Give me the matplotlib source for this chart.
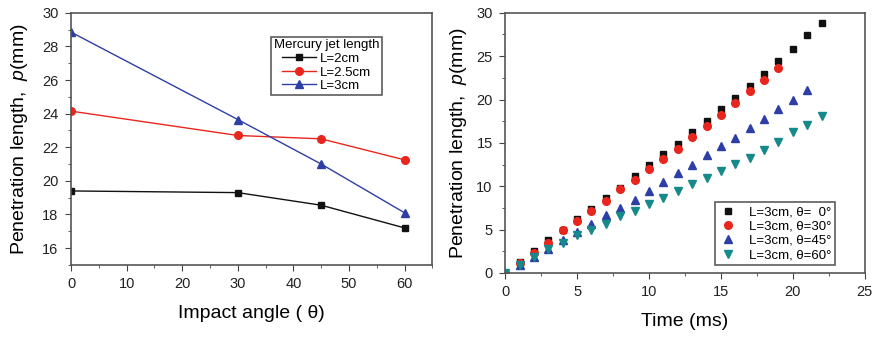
import matplotlib
matplotlib.use("Agg")
import matplotlib.pyplot as plt
from matplotlib.ticker import MultipleLocator

plt.rcParams['font.family'] = ['Liberation Sans', 'DejaVu Sans']
plt.rcParams['mathtext.fontset'] = 'custom'
plt.rcParams['mathtext.it'] = 'Liberation Sans:italic'
plt.rcParams['mathtext.rm'] = 'Liberation Sans'

# left panel: penetration vs impact angle
angles = [0, 30, 45, 60]
p_L2 = [19.4, 19.3, 18.55, 17.2]
p_L25 = [24.15, 22.7, 22.5, 21.25]
p_L3 = [28.85, 23.65, 21.0, 18.1]

# right panel: penetration vs time, L=3cm
t_0 = list(range(0, 23))
p_0 = [0, 1.27, 2.5, 3.77, 4.9, 6.2, 7.4, 8.6, 9.8, 11.15, 12.45, 13.7, 14.9,
       16.2, 17.5, 18.95, 20.2, 21.55, 22.9, 24.5, 25.8, 27.4, 28.85]
t_30 = list(range(0, 20))
p_30 = [0, 1.15, 2.35, 3.5, 4.9, 5.95, 7.15, 8.25, 9.65, 10.75, 11.95, 13.1,
        14.35, 15.65, 16.9, 18.25, 19.6, 20.95, 22.25, 23.6]
t_45 = list(range(0, 22))
p_45 = [0, 0.95, 1.8, 2.8, 3.75, 4.7, 5.7, 6.65, 7.45, 8.4, 9.4, 10.5, 11.5,
        12.45, 13.55, 14.65, 15.6, 16.7, 17.8, 18.9, 20.0, 21.1]
t_60 = list(range(0, 23))
p_60 = [0, 0.9, 1.85, 2.75, 3.5, 4.35, 4.95, 5.7, 6.55, 7.2, 8.0, 8.65, 9.5,
        10.25, 10.95, 11.8, 12.6, 13.3, 14.2, 15.15, 16.2, 17.1, 18.05]

black = '#111111'
red = '#e8261e'
blue = '#2d3fa6'
teal = '#16898a'

fig = plt.figure(figsize=(8.77, 3.37), dpi=100)
ax1 = fig.add_axes([0.081, 0.214, 0.412, 0.748])
ax2 = fig.add_axes([0.576, 0.190, 0.410, 0.772])

ax1.plot(angles, p_L2, color=black, lw=1, marker='s', ms=5, label='L=2cm')
ax1.plot(angles, p_L25, color=red, lw=1, marker='o', ms=5.5, label='L=2.5cm')
ax1.plot(angles, p_L3, color=blue, lw=1, marker='^', ms=6, label='L=3cm')
ax1.set_xlim(0, 65)
ax1.set_ylim(15, 30)
ax1.xaxis.set_major_locator(MultipleLocator(10))
ax1.xaxis.set_minor_locator(MultipleLocator(5))
ax1.yaxis.set_minor_locator(MultipleLocator(1))
ax1.set_yticks([16, 18, 20, 22, 24, 26, 28, 30])
ax1.set_xlabel('Impact angle ( \u03b8)', fontsize=14, labelpad=10)
ax1.set_ylabel('Penetration length,  $p$(mm)', fontsize=14, labelpad=9)
leg1 = ax1.legend(title='Mercury jet length', loc='upper right',
                  bbox_to_anchor=(0.86, 0.905), fontsize=9.5, title_fontsize=9.5,
                  frameon=True, fancybox=False, edgecolor='#333333',
                  handlelength=2.6, borderpad=0.2, labelspacing=0.1,
                  handletextpad=0.3, borderaxespad=0)
leg1.get_frame().set_linewidth(1.2)

ax2.plot(t_0, p_0, ls='none', marker='s', ms=5, color=black, label='L=3cm, \u03b8=  0\u00b0')
ax2.plot(t_30, p_30, ls='none', marker='o', ms=5.5, color=red, label='L=3cm, \u03b8=30\u00b0')
ax2.plot(t_45, p_45, ls='none', marker='^', ms=6, color=blue, label='L=3cm, \u03b8=45\u00b0')
ax2.plot(t_60, p_60, ls='none', marker='v', ms=6, color=teal, label='L=3cm, \u03b8=60\u00b0')
ax2.set_xlim(0, 25)
ax2.set_ylim(0, 30)
ax2.xaxis.set_major_locator(MultipleLocator(5))
ax2.xaxis.set_minor_locator(MultipleLocator(2.5))
ax2.yaxis.set_major_locator(MultipleLocator(5))
ax2.yaxis.set_minor_locator(MultipleLocator(2.5))
ax2.set_xlabel('Time (ms)', fontsize=14, labelpad=10)
ax2.set_ylabel('Penetration length,  $p$(mm)', fontsize=14, labelpad=5)
leg2 = ax2.legend(loc='lower right', bbox_to_anchor=(0.918, 0.03), fontsize=9.5,
                  frameon=True, fancybox=False, edgecolor='#333333',
                  handlelength=1.5, borderpad=0.3, labelspacing=0.15,
                  handletextpad=0.8, borderaxespad=0)
leg2.get_frame().set_linewidth(1.2)

for ax in (ax1, ax2):
    for s in ax.spines.values():
        s.set_color('#555555')
        s.set_linewidth(1.2)
    ax.tick_params(which='both', direction='out', top=False, right=False,
                   colors='#444444', labelcolor='#222222', labelsize=10.5, pad=5)
    ax.tick_params(which='major', length=4)
    ax.tick_params(which='minor', length=2.5)
    ax.set_facecolor('white')

plt.savefig('out.png', dpi=100)
